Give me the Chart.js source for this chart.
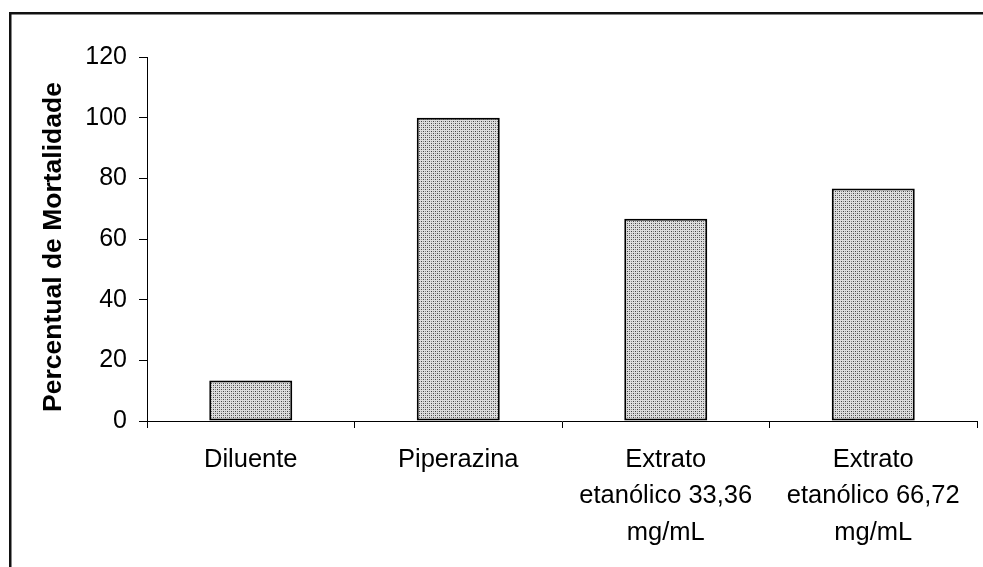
<!DOCTYPE html>
<html>
<head>
<meta charset="utf-8">
<script src="https://cdn.jsdelivr.net/npm/chart.js@4.4.1/dist/chart.umd.min.js"></script>
<style>
  html, body { margin: 0; padding: 0; background: #fff; overflow: hidden; }
  canvas { display: block; }
</style>
</head>
<body>
<canvas id="chart" width="983" height="567"></canvas>
<script>
// Treatment groups and the mortality percentage observed for each
const categories = [
  'Diluente',
  'Piperazina',
  ['Extrato', 'etanólico 33,36', 'mg/mL'],
  ['Extrato', 'etanólico 66,72', 'mg/mL']
];
const mortality = [13.33, 100, 66.67, 76.67];
const yTicks = [0, 20, 40, 60, 80, 100, 120];
const yTitle = 'Percentual de Mortalidade';

const FONT = '"Liberation Sans", Arial, sans-serif';

// Stippled grey fill used for the bars
function stipple() {
  const c = document.createElement('canvas');
  c.width = 4; c.height = 4;
  const g = c.getContext('2d');
  g.fillStyle = '#dedede';
  g.fillRect(0, 0, 4, 4);
  g.fillStyle = '#444';
  g.fillRect(1, 1, 1, 1);
  g.fillRect(3, 3, 1, 1);
  g.fillStyle = '#888';
  g.fillRect(3, 1, 1, 1);
  g.fillRect(1, 3, 1, 1);
  return g.createPattern(c, 'repeat');
}

// White background plus the outer frame (left and top edges)
const framePlugin = {
  id: 'frame',
  beforeDraw(chart) {
    const ctx = chart.ctx;
    ctx.save();
    ctx.fillStyle = '#fff';
    ctx.fillRect(0, 0, chart.width, chart.height);
    ctx.fillStyle = '#111';
    ctx.fillRect(9, 12, 2.5, chart.height - 12);
    ctx.fillRect(9, 12, chart.width - 9, 2.5);
    ctx.restore();
  }
};

// Rotated axis title beside the value axis
const yTitlePlugin = {
  id: 'yTitle',
  afterDraw(chart) {
    const ctx = chart.ctx;
    ctx.save();
    ctx.translate(54, 247);
    ctx.rotate(-Math.PI / 2);
    ctx.fillStyle = '#000';
    ctx.font = 'bold 26.5px ' + FONT;
    ctx.textAlign = 'center';
    ctx.textBaseline = 'middle';
    ctx.fillText(yTitle, 0, 0);
    ctx.restore();
  }
};

new Chart(document.getElementById('chart'), {
  type: 'bar',
  data: {
    labels: categories,
    datasets: [{
      data: mortality,
      backgroundColor: stipple(),
      borderColor: '#000',
      borderWidth: 2,
      borderSkipped: false,
      categoryPercentage: 1,
      barPercentage: 0.4
    }]
  },
  options: {
    responsive: false,
    animation: false,
    devicePixelRatio: 1,
    layout: { padding: { top: 57, right: 6, bottom: 0, left: 0 } },
    plugins: {
      legend: { display: false },
      tooltip: { enabled: false }
    },
    scales: {
      x: {
        offset: true,
        grid: {
          offset: true,
          drawOnChartArea: false,
          drawTicks: true,
          tickLength: 7,
          color: '#000',
          lineWidth: 1
        },
        border: { color: '#000', width: 1 },
        ticks: {
          autoSkip: false,
          maxRotation: 0,
          minRotation: 0,
          padding: 14,
          color: '#000',
          font: { family: FONT, size: 25.5, lineHeight: 1.42 }
        },
        afterFit(scale) { scale.height = 146; }
      },
      y: {
        min: 0,
        max: 120,
        afterBuildTicks(scale) { scale.ticks = yTicks.map(v => ({ value: v })); },
        grid: {
          drawOnChartArea: false,
          drawTicks: true,
          tickLength: 8,
          color: '#000',
          lineWidth: 1
        },
        border: { color: '#000', width: 1 },
        ticks: {
          padding: 12,
          color: '#000',
          font: { family: FONT, size: 25 }
        },
        afterFit(scale) { scale.width = 147; }
      }
    }
  },
  plugins: [framePlugin, yTitlePlugin]
});
</script>
</body>
</html>
